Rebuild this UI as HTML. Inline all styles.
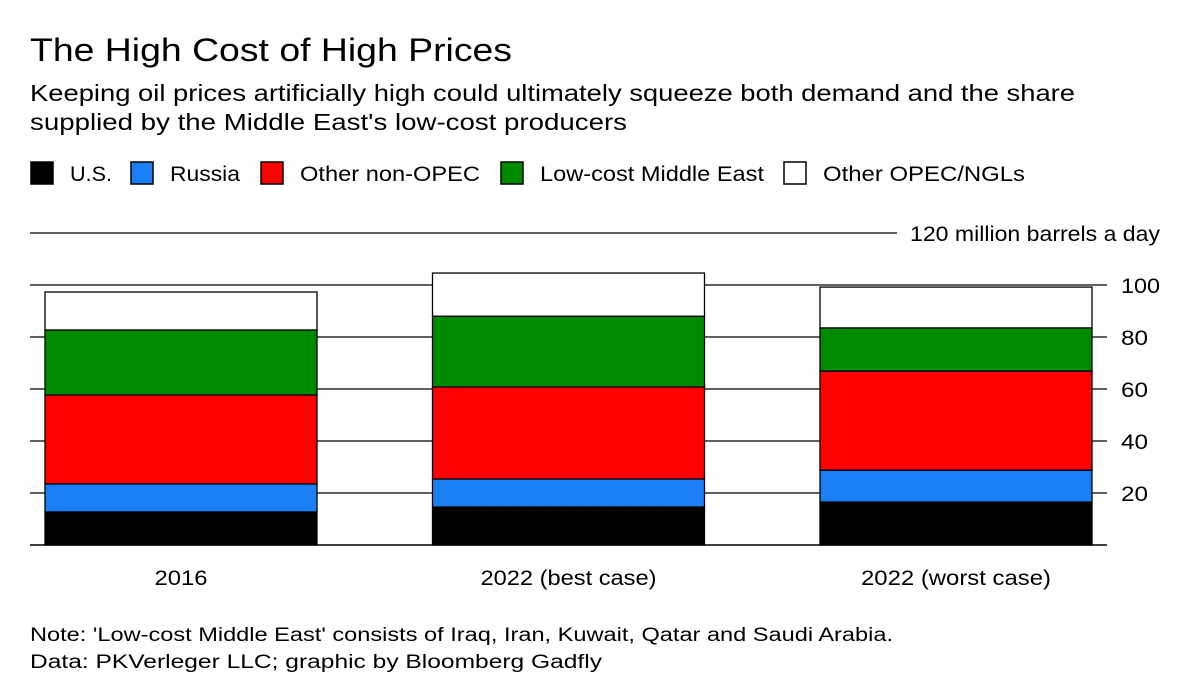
<!DOCTYPE html>
<html><head><meta charset="utf-8"><style>
body{margin:0;background:#fff;font-family:"Liberation Sans",sans-serif;}
svg text{font-family:"Liberation Sans",sans-serif;}
</style></head><body>
<svg width="1200" height="694">
<text x="30" y="61" font-size="32" textLength="482" lengthAdjust="spacingAndGlyphs" fill="#000">The High Cost of High Prices</text>
<text x="30" y="101" font-size="23" textLength="1045" lengthAdjust="spacingAndGlyphs" fill="#000">Keeping oil prices artificially high could ultimately squeeze both demand and the share</text>
<text x="30" y="130" font-size="23" textLength="597" lengthAdjust="spacingAndGlyphs" fill="#000">supplied by the Middle East's low-cost producers</text>
<g id="legend"></g>
<g id="grid"></g>
<g id="bars"></g>
<text x="30" y="641" font-size="19" textLength="863" lengthAdjust="spacingAndGlyphs" fill="#000">Note: 'Low-cost Middle East' consists of Iraq, Iran, Kuwait, Qatar and Saudi Arabia.</text>
<text x="30" y="668" font-size="19" textLength="572" lengthAdjust="spacingAndGlyphs" fill="#000">Data: PKVerleger LLC; graphic by Bloomberg Gadfly</text>
</svg>
<script>
const categories=["2016","2022 (best case)","2022 (worst case)"];
const seriesNames=["U.S.","Russia","Other non-OPEC","Low-cost Middle East","Other OPEC/NGLs"];
const us=[12.7,14.6,16.5];
const russia=[10.8,10.8,12.3];
const otherNonOpec=[34.2,35.4,38.1];
const lowCostME=[25.0,27.2,16.6];
const otherOpec=[14.6,16.6,15.7];
const ticks=[20,40,60,80,100,120];
const colors=["#000","#1a7ef5","#ff0000","#008a00","#fff"];
const NS="http://www.w3.org/2000/svg";
const y=v=>545-v*2.6;
const bandX=i=>45+i*387.5, bw=272;
const legX=[30,130,260,500,783];
const legW=[42,70,180,224,202];
const catW=[53,176,190];
function mk(tag,a,parent){const e=document.createElementNS(NS,tag);for(const k in a)e.setAttribute(k,a[k]);parent.appendChild(e);return e;}
const leg=document.getElementById('legend');
seriesNames.forEach((n,i)=>{
 const r=mk('rect',{x:legX[i]+1,y:162,width:22,height:22,fill:colors[i],stroke:"#000","stroke-width":1.5},leg);
 
 
 const t=mk('text',{x:legX[i]+40,y:181,"font-size":21,textLength:legW[i],lengthAdjust:"spacingAndGlyphs"},leg);t.textContent=n;
 
 
});
const g=document.getElementById('grid');
ticks.forEach(v=>{
 const top=v===120;
 const l=mk('line',{x1:30,x2:top?897:1107,y1:y(v),y2:y(v),stroke:"#000","stroke-width":1.3},g);
 
 
 const t=mk('text',{x:top?910:1121,y:y(v)+8,"font-size":21},g);
 t.textContent=top?"120 million barrels a day":String(v);
 if(top){t.setAttribute('textLength','250');t.setAttribute('lengthAdjust','spacingAndGlyphs');}
 else{t.setAttribute('textLength',v>=100?'39':'27');t.setAttribute('lengthAdjust','spacingAndGlyphs');}
 
 
});
const base=mk('line',{x1:30,x2:1107,y1:y(0),y2:y(0),stroke:"#000","stroke-width":1.5},g);


const b=document.getElementById('bars');
const series=[us,russia,otherNonOpec,lowCostME,otherOpec];
categories.forEach((c,i)=>{
 let cum=0;
 series.forEach((s,j)=>{
  const v0=cum;cum+=s[i];
  const r=mk('rect',{x:bandX(i),y:y(cum),width:bw,height:y(v0)-y(cum),fill:colors[j],stroke:"#000","stroke-width":1.3},b);
  
  
 });
 const t=mk('text',{x:bandX(i)+bw/2-catW[i]/2,y:585,"font-size":21,textLength:catW[i],lengthAdjust:"spacingAndGlyphs"},b);
 t.textContent=c;
 
 
});
</script>
</body></html>
